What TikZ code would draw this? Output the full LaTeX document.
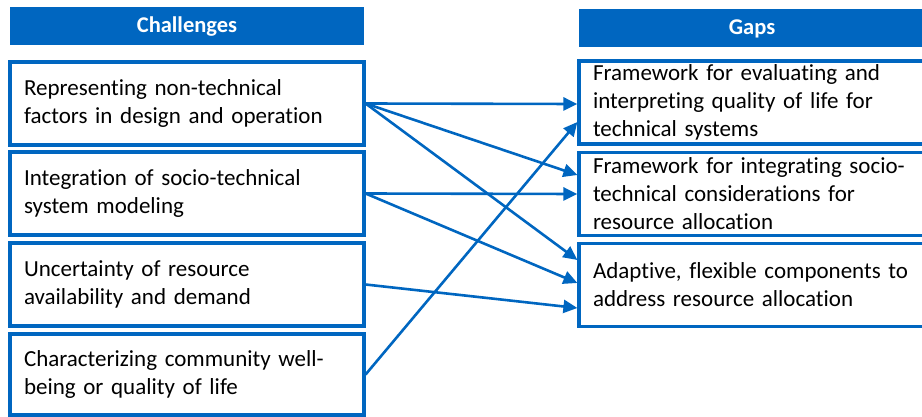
\documentclass[tikz,border=0pt]{standalone}
\usepackage{fontspec}
\setmainfont{Carlito}[Ligatures=NoCommon]
\usetikzlibrary{arrows.meta}
\definecolor{ppblue}{RGB}{0,102,192}

\begin{document}
\begin{tikzpicture}[x=1pt,y=-1pt,
    header/.style = {fill=ppblue, text=white, font=\fontsize{22.5}{26}\selectfont\bfseries,
                     minimum height=38pt, inner sep=0pt},
    box/.style = {draw=ppblue, line width=3.2pt, minimum height=83pt, inner xsep=14pt,
                  align=left, font=\fontsize{23}{28}\selectfont},
    arrow/.style = {ppblue, line width=2.6pt, -{Triangle[length=14pt,width=13pt]}}]
    \useasboundingbox (0,0) rectangle (922,417);

    % Challenges

    \node[header, minimum width=354pt] (chal) at (187,26.5) {Challenges};

    \node[box, text width=326pt] (c1) at (187,103.5) {Representing non-technical\\factors in design and operation};
    \node[box, text width=326pt] (c2) at (187,193.5) {Integration of socio-technical\\system modeling};
    \node[box, text width=326pt] (c3) at (187,284.5) {Uncertainty of resource\\availability and demand};
    \node[box, text width=326pt, minimum height=81pt] (c4) at (187,374.5) {Characterizing community well-\\being or quality of life};

    % Gaps

    \node[header, minimum width=346pt] (gaps) at (752,28.5) {Gaps};

    \node[box, text width=318pt] (g1) at (752,102.5) {Framework for evaluating and\\interpreting quality of life for\\technical systems};
    \node[box, text width=318pt] (g2) at (752,194) {Framework for integrating socio-\\technical considerations for\\resource allocation};
    \node[box, text width=318pt] (g3) at (752,285) {Adaptive, flexible components to\\address resource allocation};

    % links

    \draw[arrow] (c1.east) -- ([yshift=-1.5pt]g1.west);
    \draw[arrow] (c1.east) -- ([yshift=19pt]g2.west);
    \draw[arrow] (c1.east) -- ([yshift=25pt]g3.west);

    \draw[arrow] (c2.east) -- (g2.west);
    \draw[arrow] (c2.east) -- ([yshift=2pt]g3.west);

    \draw[arrow] (c3.east) -- ([yshift=-23pt]g3.west);

    \draw[arrow] (c4.east) -- ([yshift=-19.5pt]g1.west);
\end{tikzpicture}
\end{document}
